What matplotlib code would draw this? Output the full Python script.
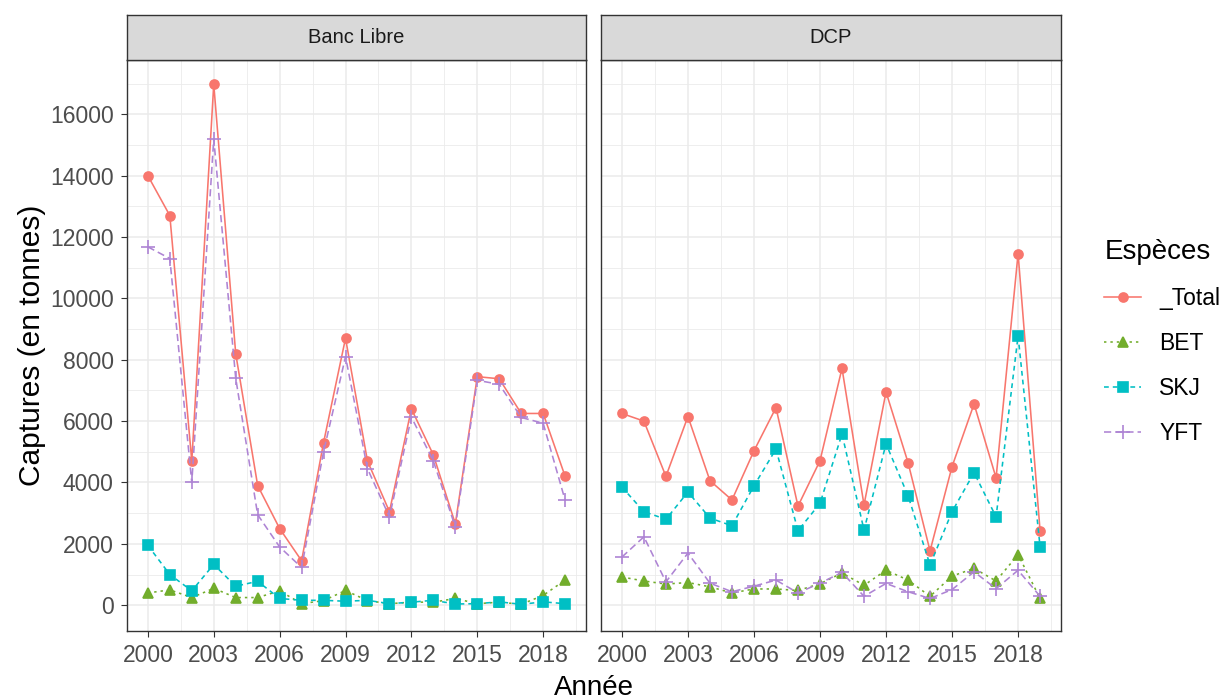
import numpy as np
import matplotlib.pyplot as plt
from matplotlib.lines import Line2D

plt.rcParams['font.family'] = ['Liberation Sans', 'DejaVu Sans']

# données (captures en tonnes)
annees = list(range(2000, 2020))
panneaux = ['Banc Libre', 'DCP']
especes = ['_Total', 'BET', 'SKJ', 'YFT']

bl_total = [14000, 12700, 4700, 16980, 8200, 3900, 2500, 1450, 5300, 8700,
            4700, 3050, 6400, 4900, 2650, 7450, 7380, 6250, 6250, 4200]
bl_bet = [400, 500, 250, 550, 250, 250, 470, 50, 150, 480,
          150, 50, 100, 100, 220, 50, 100, 30, 320, 820]
bl_skj = [1950, 1000, 470, 1330, 620, 780, 220, 160, 160, 130,
          160, 50, 100, 160, 40, 50, 110, 30, 110, 50]
bl_yft = [11680, 11300, 4000, 15200, 7400, 2950, 1900, 1230, 5000, 8100,
          4450, 2880, 6130, 4700, 2550, 7330, 7200, 6120, 5930, 3420]

dcp_total = [6250, 6000, 4200, 6150, 4060, 3430, 5030, 6440, 3230, 4710,
             7720, 3270, 6950, 4650, 1770, 4520, 6560, 4150, 11460, 2420]
dcp_bet = [920, 790, 690, 740, 600, 400, 530, 530, 480, 700,
           1050, 650, 1140, 820, 290, 950, 1200, 790, 1650, 220]
dcp_skj = [3850, 3050, 2800, 3690, 2840, 2590, 3890, 5090, 2430, 3320,
           5580, 2450, 5260, 3570, 1310, 3050, 4320, 2880, 8780, 1900]
dcp_yft = [1570, 2230, 760, 1700, 720, 440, 620, 820, 400, 720,
           1070, 290, 710, 440, 220, 510, 1090, 540, 1140, 290]

donnees = {'Banc Libre': [bl_total, bl_bet, bl_skj, bl_yft],
           'DCP': [dcp_total, dcp_bet, dcp_skj, dcp_yft]}

couleurs = ['#F8766D', '#72AD2C', '#00BFC4', '#AE84D4']
marqueurs = ['o', '^', 's', '+']
tailles = [6.5, 6.5, 6.5, 10]
traits = ['-', (0, (1.5, 2.5)), (0, (3, 2.5)), (0, (4.5, 2.5))]

W, H = 1229, 700
fig = plt.figure(figsize=(W / 100, H / 100), dpi=100)

def px(x0, y0, x1, y1):
    # rectangle en pixels -> coordonnées figure
    return [x0 / W, 1 - y1 / H, (x1 - x0) / W, (y1 - y0) / H]

bords = [(127, 586), (601, 1061)]
gris_bord = '#333333'

for k, nom in enumerate(panneaux):
    x0, x1 = bords[k]
    ax = fig.add_axes(px(x0, 60, x1, 631))
    for s, serie in enumerate(donnees[nom]):
        ax.plot(annees, serie, linestyle=traits[s], color=couleurs[s], lw=1.15,
                marker=marqueurs[s], markersize=tailles[s], markeredgewidth=1.2,
                zorder=3)
    ax.set_xlim(1999.05, 2019.95)
    ax.set_ylim(-840, 17770)
    ax.set_xticks(range(2000, 2020, 3))
    ax.set_xticks(np.arange(2001.5, 2020, 3), minor=True)
    ax.set_yticks(range(0, 17000, 2000))
    ax.set_yticks(range(1000, 18000, 2000), minor=True)
    ax.grid(True, which='major', color='#EBEBEB', lw=1.1, zorder=0)
    ax.grid(True, which='minor', color='#EBEBEB', lw=0.6, zorder=0)
    ax.set_axisbelow(True)
    ax.tick_params(which='major', length=4.5, width=0.8, color=gris_bord,
                   labelsize=16.5, labelcolor='#4D4D4D', pad=5)
    ax.tick_params(which='minor', length=0)
    if k == 1:
        ax.tick_params(axis='y', left=False, labelleft=False)
    for sp in ax.spines.values():
        sp.set_color(gris_bord)
        sp.set_linewidth(1.0)

    # bandeau du facette
    st = fig.add_axes(px(x0, 15, x1, 60))
    st.set_facecolor('#D9D9D9')
    st.set_xticks([])
    st.set_yticks([])
    for sp in st.spines.values():
        sp.set_color(gris_bord)
        sp.set_linewidth(1.0)
    st.text(0.5, 0.5, nom, ha='center', va='center', fontsize=14.5,
            color='#1A1A1A', transform=st.transAxes)

fig.text(32 / W, 1 - 345 / H, 'Captures (en tonnes)', rotation=90,
         ha='center', va='center', fontsize=21.5)
fig.text(594 / W, 1 - 688 / H, 'Année', ha='center', va='center', fontsize=20)

poignees = [Line2D([], [], linestyle=traits[s], color=couleurs[s], lw=1.15,
                   marker=marqueurs[s], markersize=tailles[s], markeredgewidth=1.2)
            for s in range(4)]
leg = fig.legend(poignees, especes, title='Espèces', loc='upper left',
                 bbox_to_anchor=(1093 / W, 1 - 228 / H), frameon=False,
                 fontsize=16.5, title_fontsize=20, handlelength=1.6,
                 handletextpad=0.8, labelspacing=0.95, borderpad=0)
leg._legend_box.align = 'left'

fig.savefig('out.png', dpi=100)
